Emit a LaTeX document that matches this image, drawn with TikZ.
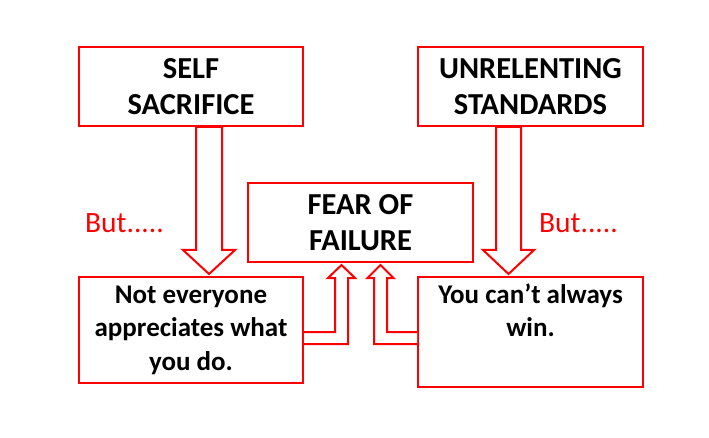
\documentclass[tikz,border=0pt]{standalone}
\usepackage{fontspec}
\setmainfont{Carlito}
\usetikzlibrary{calc}
\definecolor{bred}{RGB}{255,0,0}
\begin{document}
\begin{tikzpicture}[x=1pt,y=-1pt,
  box/.style={draw=bred, line width=2pt, fill=white, inner sep=0pt, align=center,
    font=\bfseries\fontsize{30.5}{36}\selectfont},
  lowbox/.style={box, font=\bfseries\fontsize{27}{33.5}\selectfont},
  fat/.style={draw=bred, line width=2pt, fill=white, line join=miter},
  butlabel/.style={text=bred, inner sep=0pt, font=\fontsize{29.5}{34}\selectfont}]
\useasboundingbox[fill=white] (0,0) rectangle (709,438);

\node[box, minimum width=224pt, minimum height=79pt] (self) at (191,86.5) {SELF\\SACRIFICE};
\node[box, minimum width=225pt, minimum height=79pt] (unrel) at (530.5,86.5) {UNRELENTING\\STANDARDS};
\node[box, minimum width=225pt, minimum height=79pt] (fear) at (360.5,222.5) {FEAR OF\\FAILURE};
\node[lowbox, minimum width=224pt, minimum height=106pt] (not) at (191,330) {Not everyone\\appreciates what\\you do.};
\node[lowbox, minimum width=225pt, minimum height=110pt] (you) at (530.5,332) {You can’t always\\win.\\\strut};

\node[butlabel] (but1) at (124.5,223) {But.....};
\node[butlabel] (but2) at (578.5,223) {But.....};

% down arrows
\draw[fat] (self.south) ++(5,0) -- ++(0,123) -- ++(-13,0) -- ++(26,24) -- ++(26,-24)
  -- ++(-13,0) -- ++(0,-123) -- cycle;
\draw[fat] (unrel.south) ++(-34.5,0) -- ++(0,123) -- ++(-13,0) -- ++(25.5,24) -- ++(25.5,-24)
  -- ++(-13,0) -- ++(0,-123) -- cycle;

% bent up arrows
\draw[fat] (not.east) ++(0,2) -- ++(31,0) -- ++(0,-54) -- ++(-7,0) -- ++(13.5,-13)
  -- ++(13.5,13) -- ++(-7,0) -- ++(0,66) -- ++(-44,0);
\draw[fat] (you.west) -- ++(-30,0) -- ++(0,-54) -- ++(6.5,0) -- ++(-13,-13)
  -- ++(-13,13) -- ++(6.5,0) -- ++(0,66) -- ++(43,0);
\end{tikzpicture}
\end{document}
